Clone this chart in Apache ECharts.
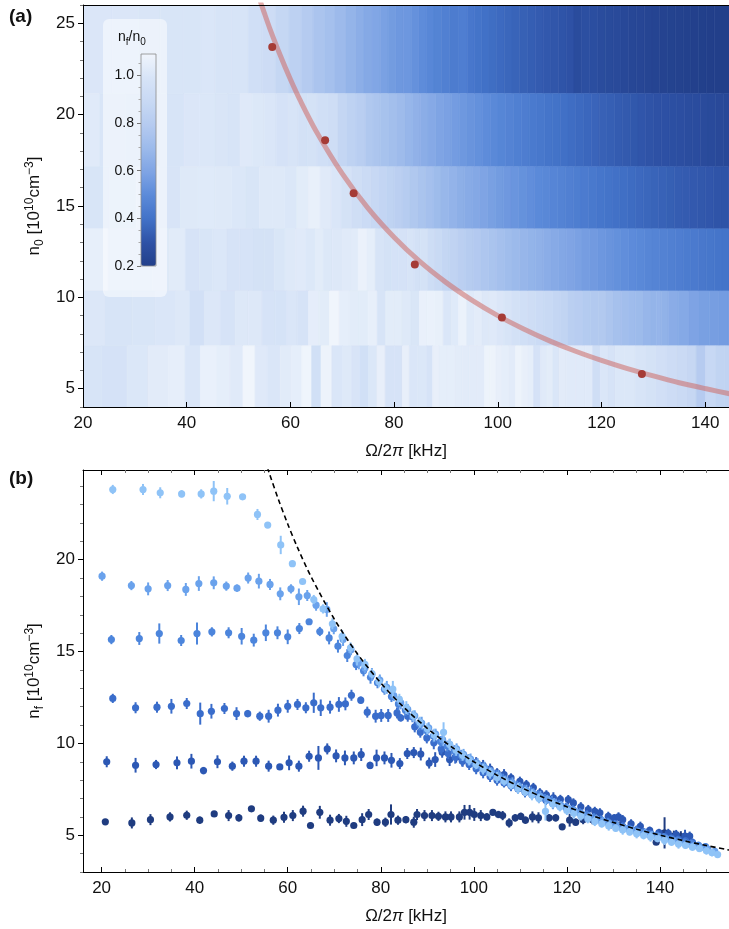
<!DOCTYPE html>
<html><head><meta charset="utf-8">
<script src="https://cdn.jsdelivr.net/npm/echarts@6/dist/echarts.min.js"></script>
<style>html,body{margin:0;padding:0;background:#fff}#c{width:729px;height:929px}</style>
</head><body><div id="c"></div>
<script>
// ---------- DATA ----------
// initial densities n0 of the six data sets (10^10 cm^-3)
const n0Values = [23.7, 18.6, 15.7, 11.8, 8.9, 5.8];
// heat-map band edges in n0 (top of band 1 ... bottom of band 6)
const bandEdges = [26, 21.15, 17.15, 13.75, 10.35, 7.35, 4];
// red dots in (a): critical frequency for each n0
const crossOmega = [56.5, 66.7, 72.2, 84.0, 100.8, 127.8];
// critical-density curve (red line in a, dashed line in b)
const curveX = [53, 54, 55, 56, 58, 60, 62, 65, 70, 75, 80, 85, 90, 95, 100, 105, 110, 115, 120, 125, 130, 135, 140, 145, 150, 155];
const curveY = [27.24, 26.37, 25.54, 24.74, 23.28, 21.94, 20.72, 19.08, 16.77, 14.87, 13.29, 11.95, 10.82, 9.85, 9.00, 8.27, 7.62, 7.05, 6.55, 6.10, 5.70, 5.33, 5.01, 4.71, 4.44, 4.19];

// measured final densities n_f: [Omega/2pi (kHz), n_f, error]
const set1 = [[22.4,23.82,0.25],[28.9,23.82,0.3],[32.6,23.64,0.3],[37.2,23.58,0.2],[41.4,23.58,0.25],[44.1,23.73,0.55],[47.0,23.45,0.45],[50.3,23.42,0.12],[53.5,22.46,0.3],[55.7,21.88,0.15],[58.5,20.8,0.5],[61.0,19.78,0.12],[63.2,18.81,0.15],[65.6,17.83,0.25],[67.6,17.32,0.25],[69.6,16.51,0.3],[71.7,15.83,0.35],[73.5,15.2,0.3],[74.9,14.6,0.35],[76.6,14.3,0.3],[78.1,13.8,0.25],[79.6,13.35,0.3],[81.0,13.0,0.3],[82.6,12.95,0.45],[84.0,12.4,0.3],[85.5,11.95,0.35],[87.0,11.5,0.3],[88.4,11.15,0.3],[90.0,10.8,0.3],[91.5,10.45,0.35],[93.5,10.6,0.55],[94.8,9.95,0.3],[96.2,9.62,0.3],[97.6,9.35,0.3],[99.0,9.1,0.3],[100.5,8.85,0.25],[102.0,8.6,0.3],[103.5,8.38,0.3],[105.0,8.15,0.3],[106.5,7.95,0.25],[108.0,7.75,0.25],[109.5,7.55,0.3],[111.0,7.38,0.25],[112.5,7.2,0.3],[114.0,7.0,0.25],[115.4,6.3,0.5],[117.0,6.7,0.25],[118.5,6.55,0.25],[120.0,6.35,0.25],[121.5,6.2,0.3],[123.0,6.05,0.25],[124.5,5.9,0.25],[126.0,5.75,0.25],[127.5,5.62,0.2],[129.0,5.5,0.25],[130.5,5.38,0.2],[132.0,5.28,0.25],[133.5,5.18,0.2],[135.0,5.08,0.25],[136.5,4.98,0.2],[138.0,4.9,0.25],[139.5,4.82,0.2],[141.0,4.72,0.25],[142.5,4.62,0.2],[144.0,4.52,0.25],[145.5,4.45,0.2],[147.0,4.35,0.2],[148.5,4.28,0.2],[150.0,4.15,0.2],[151.2,4.05,0.2],[152.4,3.95,0.15]];
const set2 = [[20.1,19.1,0.25],[26.4,18.59,0.25],[30.0,18.41,0.35],[34.2,18.59,0.3],[38.1,18.38,0.35],[40.9,18.7,0.4],[44.1,18.74,0.35],[46.8,18.56,0.25],[49.1,18.45,0.2],[51.5,19.0,0.3],[53.8,18.83,0.4],[56.2,18.65,0.3],[58.4,18.14,0.35],[60.7,18.41,0.25],[62.4,17.98,0.45],[64.2,18.05,0.3],[66.1,17.52,0.3],[68.4,17.29,0.4],[69.9,16.24,0.3],[71.9,15.65,0.35],[73.6,15.1,0.3],[75.3,14.38,0.35],[76.6,14.11,0.3],[78.1,13.75,0.35],[79.8,13.45,0.3],[81.3,13.05,0.35],[82.8,12.6,0.3],[84.3,12.2,0.35],[85.8,11.85,0.3],[87.3,11.5,0.3],[88.8,11.1,0.35],[90.3,10.85,0.3],[91.8,10.5,0.3],[93.3,10.2,0.35],[94.8,9.95,0.3],[96.3,9.7,0.3],[97.8,9.4,0.3],[99.3,9.15,0.3],[100.8,8.9,0.3],[102.3,8.7,0.3],[103.8,8.45,0.25],[105.3,8.25,0.3],[106.8,8.0,0.25],[108.3,7.85,0.3],[109.8,7.65,0.25],[111.3,7.45,0.3],[112.8,7.3,0.25],[114.3,7.12,0.3],[115.8,6.95,0.25],[117.3,6.78,0.25],[118.8,6.62,0.25],[120.3,6.45,0.25],[121.8,6.3,0.25],[123.3,6.15,0.25],[124.8,6.0,0.25],[126.3,5.88,0.2],[127.8,5.75,0.25],[129.3,5.62,0.2],[130.8,5.5,0.25],[132.3,5.4,0.2],[133.8,5.3,0.2],[135.3,5.2,0.2],[136.8,5.1,0.25],[138.3,5.02,0.2],[139.8,4.92,0.2],[141.3,4.82,0.2],[142.8,4.72,0.2],[144.3,4.62,0.2],[145.8,4.52,0.2],[147.3,4.42,0.2],[148.8,4.34,0.2],[150.3,4.25,0.2],[151.8,4.12,0.2]];
const set3 = [[22.1,15.65,0.25],[28.1,15.71,0.35],[32.4,15.98,0.55],[37.1,15.6,0.3],[40.5,15.98,0.6],[43.7,16.07,0.25],[47.3,16.02,0.3],[50.1,15.83,0.45],[52.7,15.62,0.35],[55.3,16.02,0.45],[57.8,16.02,0.35],[60.0,15.8,0.4],[62.5,16.25,0.3],[64.6,16.62,0.15],[66.9,16.09,0.25],[68.9,15.74,0.35],[70.8,15.29,0.35],[72.8,14.78,0.35],[74.7,14.29,0.3],[76.3,13.95,0.3],[77.8,13.6,0.35],[79.3,13.3,0.3],[80.8,12.95,0.3],[82.3,12.55,0.3],[83.8,12.15,0.35],[85.3,11.8,0.3],[86.8,11.45,0.3],[88.3,11.05,0.35],[89.8,10.7,0.3],[91.3,10.4,0.35],[92.8,10.1,0.3],[94.3,9.85,0.3],[95.8,9.6,0.3],[97.3,9.35,0.3],[98.8,9.1,0.3],[100.3,8.85,0.3],[101.8,8.65,0.3],[103.3,8.45,0.3],[104.8,8.25,0.3],[106.3,8.05,0.3],[107.8,7.8,0.3],[109.3,7.65,0.3],[110.8,7.5,0.25],[112.3,7.35,0.3],[113.8,7.15,0.3],[115.3,7.0,0.25],[116.8,6.85,0.3],[118.3,6.68,0.25],[119.8,6.52,0.25],[121.3,6.38,0.25],[122.8,6.22,0.25],[124.3,6.1,0.25],[125.8,5.95,0.25],[127.3,5.82,0.25],[128.8,5.7,0.25],[130.3,5.58,0.25],[131.8,5.45,0.2],[133.3,5.35,0.2],[134.8,5.25,0.25],[136.3,5.15,0.2],[137.8,5.05,0.2],[139.3,4.98,0.2],[140.8,4.9,0.2],[142.3,4.8,0.2],[143.8,4.72,0.2],[145.3,4.62,0.2],[146.8,4.55,0.2],[148.3,4.45,0.2],[149.8,4.38,0.2]];
const set4 = [[22.4,12.45,0.25],[27.3,11.94,0.3],[31.9,11.97,0.3],[35.0,12.02,0.4],[38.3,12.17,0.3],[41.2,11.62,0.6],[43.6,11.75,0.4],[46.4,11.9,0.3],[49.0,11.62,0.35],[51.4,11.62,0.2],[54.0,11.48,0.25],[55.9,11.48,0.35],[57.9,11.81,0.35],[60.0,12.02,0.35],[62.1,12.12,0.3],[63.9,11.94,0.3],[65.6,12.21,0.55],[67.1,11.94,0.45],[69.1,11.97,0.35],[71.0,12.12,0.4],[72.4,12.15,0.35],[73.7,12.62,0.3],[75.7,12.35,0.2],[77.1,11.7,0.3],[78.9,11.48,0.35],[80.1,11.52,0.35],[81.6,11.52,0.35],[83.5,11.66,0.3],[84.3,11.39,0.2],[85.8,11.48,0.3],[87.3,10.9,0.3],[88.5,10.61,0.3],[89.9,10.3,0.3],[91.4,10.03,0.35],[93.0,9.7,0.3],[94.5,9.45,0.3],[96.0,9.25,0.35],[97.5,9.05,0.3],[99.0,8.85,0.3],[100.5,8.62,0.3],[102.0,8.4,0.3],[103.5,8.2,0.3],[105.0,8.0,0.3],[106.5,7.85,0.25],[108.0,7.7,0.3],[109.5,7.52,0.25],[111.0,7.36,0.3],[112.5,7.2,0.25],[114.0,7.05,0.3],[115.5,6.9,0.25],[117.0,6.72,0.3],[118.5,6.6,0.25],[120.0,6.45,0.25],[121.5,6.3,0.25],[123.0,6.16,0.25],[124.5,6.05,0.25],[126.0,5.92,0.25],[127.5,5.8,0.25],[129.0,5.68,0.25],[130.5,5.58,0.2],[132.0,5.48,0.25],[133.5,5.38,0.2],[135.0,5.28,0.25],[136.5,5.18,0.2],[138.0,5.1,0.2],[139.5,5.0,0.25],[141.0,4.92,0.2],[142.5,4.85,0.2],[144.0,4.78,0.2],[145.5,4.7,0.2],[147.0,4.62,0.2]];
const set5 = [[21.1,9.0,0.3],[27.3,8.81,0.4],[31.7,8.85,0.25],[36.2,8.94,0.35],[39.3,9.03,0.4],[41.9,8.52,0.2],[44.9,9.0,0.35],[48.1,8.76,0.25],[50.6,9.03,0.3],[53.2,9.03,0.3],[55.9,8.76,0.3],[58.3,8.72,0.1],[60.3,8.94,0.4],[62.4,8.76,0.3],[64.6,9.3,0.3],[66.6,9.21,0.65],[68.5,9.7,0.3],[70.4,9.32,0.35],[72.3,9.21,0.4],[74.2,9.21,0.35],[75.8,9.39,0.35],[77.7,8.8,0.2],[79.1,9.21,0.45],[80.8,9.21,0.35],[82.3,9.08,0.4],[84.1,8.9,0.3],[85.7,9.45,0.3],[87.1,9.5,0.3],[88.6,9.42,0.35],[90.4,8.93,0.3],[91.7,9.12,0.4],[93.2,9.52,0.3],[94.8,9.12,0.35],[96.2,9.25,0.3],[97.6,9.03,0.3],[99.0,9.1,0.3],[100.5,8.95,0.3],[102.0,8.8,0.3],[103.5,8.6,0.3],[105.0,8.4,0.25],[106.5,8.3,0.3],[108.0,8.12,0.25],[109.9,7.94,0.25],[111.3,7.76,0.25],[112.8,7.6,0.25],[114.2,7.31,0.25],[115.6,7.2,0.25],[117.1,7.04,0.3],[118.6,6.95,0.25],[120.3,6.94,0.25],[121.4,6.76,0.25],[123.0,6.55,0.25],[124.6,6.4,0.25],[126.0,6.3,0.25],[127.1,6.22,0.25],[128.9,6.03,0.25],[130.2,5.95,0.2],[131.1,6.0,0.25],[132.0,5.85,0.25],[133.8,5.62,0.25],[135.8,5.49,0.25],[137.8,5.27,0.2],[139.8,5.15,0.2],[141.8,5.1,0.25],[143.5,5.04,0.25],[145.4,4.95,0.35],[146.4,4.95,0.25]];
const set6 = [[20.8,5.73,0.15],[26.5,5.67,0.3],[30.5,5.85,0.3],[34.7,6.0,0.25],[38.3,6.09,0.25],[41.1,5.82,0.2],[44.2,6.16,0.15],[47.3,6.07,0.3],[49.5,5.95,0.2],[52.2,6.44,0.15],[54.2,5.93,0.2],[56.9,5.82,0.25],[59.2,5.98,0.3],[61.1,6.07,0.3],[63.3,6.31,0.3],[64.9,5.53,0.15],[66.9,6.25,0.35],[69.1,5.82,0.3],[71.0,5.91,0.25],[72.6,5.76,0.3],[74.2,5.53,0.15],[76.0,5.85,0.35],[77.4,6.13,0.3],[79.2,5.71,0.2],[81.0,5.71,0.25],[82.2,6.13,0.55],[83.7,5.82,0.25],[85.4,5.85,0.2],[87.1,5.71,0.3],[87.8,6.13,0.3],[89.4,6.07,0.3],[91.0,6.07,0.3],[92.4,6.03,0.25],[93.9,6.0,0.3],[95.1,6.0,0.3],[96.9,6.0,0.3],[98.0,6.25,0.4],[99.1,6.25,0.4],[100.1,6.13,0.35],[101.5,6.07,0.3],[102.8,6.0,0.2],[104.1,6.25,0.15],[105.3,6.13,0.2],[106.2,6.07,0.25],[107.6,5.67,0.25],[108.9,5.95,0.2],[110.1,6.03,0.2],[111.1,5.82,0.2],[112.6,6.0,0.3],[113.9,5.95,0.3],[116.2,5.95,0.2],[117.6,5.95,0.2],[119.0,5.46,0.15],[120.6,5.82,0.35],[121.9,5.71,0.2],[123.5,5.85,0.25],[125.5,5.85,0.25],[127.5,5.75,0.25],[129.5,5.62,0.25],[131.5,5.5,0.25],[133.5,5.35,0.25],[135.5,5.25,0.25],[137.4,5.1,0.25],[139.2,4.62,0.15],[141.0,5.13,0.85],[143.0,4.95,0.3],[144.5,4.92,0.3]];

// tick values
const aXTicks = [20, 40, 60, 80, 100, 120, 140];
const aYTicks = [5, 10, 15, 20, 25];
const aYMinor = [4, 6, 7, 8, 9, 11, 12, 13, 14, 16, 17, 18, 19, 21, 22, 23, 24, 26];
const bXTicks = [20, 40, 60, 80, 100, 120, 140];
const bXMinor = [25, 30, 35, 45, 50, 55, 65, 70, 75, 85, 90, 95, 105, 110, 115, 125, 130, 135, 145, 150];
const bYTicks = [5, 10, 15, 20];
const bYMinor = [3, 4, 6, 7, 8, 9, 11, 12, 13, 14, 16, 17, 18, 19, 21, 22, 23, 24];
const cbTicks = [0.2, 0.4, 0.6, 0.8, 1.0];
const cbMinor = [0.25, 0.3, 0.35, 0.45, 0.5, 0.55, 0.65, 0.7, 0.75, 0.85, 0.9, 0.95, 1.05];

// ---------- STYLE / LAYOUT ----------
const FONT = '"Liberation Sans", Arial, Helvetica, sans-serif';
const A_XMIN = 20, A_XMAX = 144.6, A_YMIN = 4, A_YMAX = 26;
const B_XMIN = 16, B_XMAX = 154.85, B_YMIN = 3, B_YMAX = 24.88;
const CB_MIN = 0.2, CB_MAX = 1.09;
const setColors = ['#8fc3f7', '#6aa2ec', '#4c85dc', '#3a6dcb', '#2c58b4', '#1f3c80'];
const sets = [set1, set2, set3, set4, set5, set6];

// heat map cells (a): ratio n_f/n_0, columns centred on the measured frequencies
const heatCells = [];
sets.forEach((pts, i) => {
  const n0 = n0Values[i], yTop = bandEdges[i], yBot = bandEdges[i + 1];
  for (let k = 0; k < pts.length; k++) {
    const x = pts[k][0];
    let xl = k === 0 ? A_XMIN : (pts[k - 1][0] + x) / 2;
    let xr = k === pts.length - 1 ? A_XMAX : (x + pts[k + 1][0]) / 2;
    xl = Math.max(xl, A_XMIN); xr = Math.min(xr, A_XMAX);
    if (xr <= xl) continue;
    heatCells.push([xl, xr, yBot, yTop, pts[k][1] / n0]);
  }
});

const richTxt = (size) => ({
  t: {fontSize: size, fontFamily: FONT, color: '#111', fontWeight: 'normal', lineHeight: size + 5},
  i: {fontSize: size, fontFamily: FONT, color: '#111', fontWeight: 'normal', fontStyle: 'italic', lineHeight: size + 5},
  sb: {fontSize: Math.round(size * 0.7), fontFamily: FONT, color: '#111', fontWeight: 'normal', verticalAlign: 'bottom', lineHeight: size + 5},
  sp: {fontSize: Math.round(size * 0.7), fontFamily: FONT, color: '#111', fontWeight: 'normal', verticalAlign: 'top', lineHeight: Math.round(size * 0.7)}
});

function ax(extra) {
  return Object.assign({
    type: 'value', z: 10, splitLine: {show: false},
    axisLine: {show: false, onZero: false},
    axisTick: {show: false}, axisLabel: {show: false}
  }, extra);
}
const majorLine = {show: true, onZero: false, lineStyle: {color: '#000', width: 1}};
const lab = (vals, size) => ({show: true, customValues: vals, fontSize: size, color: '#111', fontFamily: FONT, margin: 8});

function errSeries(pts, color) {
  return {
    type: 'custom', xAxisIndex: 2, yAxisIndex: 2, data: pts, encode: {x: 0, y: 1}, z: 3, clip: true,
    renderItem(params, api) {
      const x = api.value(0), y = api.value(1), e = api.value(2);
      const p = api.coord([x, y]), t = api.coord([x, y + e]), b = api.coord([x, y - e]);
      return {type: 'group', children: [
        {type: 'line', shape: {x1: p[0], y1: t[1], x2: p[0], y2: b[1]}, style: {stroke: color, lineWidth: 2}},
        {type: 'circle', shape: {cx: p[0], cy: p[1], r: 3.6}, style: {fill: color}}
      ]};
    }
  };
}

const option = {
  animation: false,
  backgroundColor: '#fff',
  textStyle: {fontFamily: FONT},
  title: [
    {text: '(a)', left: 9, top: 7, padding: 0, textStyle: {fontSize: 19, fontWeight: 'bold', color: '#111', fontFamily: FONT}},
    {text: '(b)', left: 9, top: 469, padding: 0, textStyle: {fontSize: 19, fontWeight: 'bold', color: '#111', fontFamily: FONT}},
    {text: '{t|n}{sb|f}{t|/n}{sb|0}', left: 118, top: 28, padding: 0, textStyle: {fontWeight: 'normal', rich: richTxt(14)}}
  ],
  graphic: [
    {type: 'rect', shape: {x: 103, y: 19, width: 64, height: 278, r: 6}, style: {fill: 'rgba(255,255,255,0.5)'}, z: 3}
  ],
  grid: [
    {left: 83, top: 5, width: 648, height: 402, show: false},
    {left: 83, top: 470, width: 648, height: 402, show: false},
    {left: 141, top: 54, width: 15, height: 212, show: true, borderColor: '#8a8a8a', borderWidth: 0.8, backgroundColor: 'transparent', z: 10}
  ],
  visualMap: {
    type: 'continuous', min: CB_MIN, max: CB_MAX, dimension: 4, seriesIndex: 0,
    left: 141, top: 54, itemWidth: 15, itemHeight: 212, padding: 0, calculable: false, z: 6,
    inRange: {color: ['#223f8a', '#2e52a6', '#4272c8', '#5b8ad9', '#7fa4e4', '#9cbaeb', '#b5cbf0', '#c8d9f4', '#d7e4f7', '#f0f5fc']}
  },
  xAxis: [
    ax({gridIndex: 0, position: 'bottom', min: A_XMIN, max: A_XMAX, axisLine: majorLine,
        axisTick: {show: true, inside: true, length: 5, customValues: aXTicks, lineStyle: {color: '#000'}},
        axisLabel: lab(aXTicks, 17),
        name: '{t|Ω/2}{i|π}{t| [kHz]}', nameLocation: 'middle', nameGap: 33, nameTextStyle: {rich: richTxt(17)}}),
    ax({gridIndex: 0, position: 'top', min: A_XMIN, max: A_XMAX, axisLine: majorLine}),
    ax({gridIndex: 1, position: 'bottom', min: B_XMIN, max: B_XMAX, axisLine: majorLine,
        axisTick: {show: true, inside: true, length: 5, customValues: bXTicks, lineStyle: {color: '#000'}},
        axisLabel: lab(bXTicks, 17),
        name: '{t|Ω/2}{i|π}{t| [kHz]}', nameLocation: 'middle', nameGap: 33, nameTextStyle: {rich: richTxt(17)}}),
    ax({gridIndex: 1, position: 'bottom', min: B_XMIN, max: B_XMAX,
        axisTick: {show: true, inside: true, length: 3, customValues: bXMinor, lineStyle: {color: '#777'}}}),
    ax({gridIndex: 1, position: 'top', min: B_XMIN, max: B_XMAX, axisLine: majorLine,
        axisTick: {show: true, inside: true, length: 5, customValues: bXTicks, lineStyle: {color: '#000'}}}),
    ax({gridIndex: 1, position: 'top', min: B_XMIN, max: B_XMAX,
        axisTick: {show: true, inside: true, length: 3, customValues: bXMinor, lineStyle: {color: '#777'}}}),
    ax({gridIndex: 2, min: 0, max: 1, show: false})
  ],
  yAxis: [
    ax({gridIndex: 0, position: 'left', min: A_YMIN, max: A_YMAX, axisLine: majorLine,
        axisTick: {show: true, inside: false, length: 5, customValues: aYTicks, lineStyle: {color: '#000'}},
        axisLabel: lab(aYTicks, 17),
        name: '{t|n}{sb|0}{t| [10}{sp|10}{t|cm}{sp|−3}{t|]}', nameLocation: 'middle', nameRotate: 90, nameGap: 30, nameTextStyle: {rich: richTxt(17)}}),
    ax({gridIndex: 0, position: 'left', min: A_YMIN, max: A_YMAX,
        axisTick: {show: true, inside: false, length: 3, customValues: aYMinor, lineStyle: {color: '#777'}}}),
    ax({gridIndex: 1, position: 'left', min: B_YMIN, max: B_YMAX, axisLine: majorLine,
        axisTick: {show: true, inside: false, length: 5, customValues: bYTicks, lineStyle: {color: '#000'}},
        axisLabel: lab(bYTicks, 17),
        name: '{t|n}{sb|f}{t| [10}{sp|10}{t|cm}{sp|−3}{t|]}', nameLocation: 'middle', nameRotate: 90, nameGap: 30, nameTextStyle: {rich: richTxt(17)}}),
    ax({gridIndex: 1, position: 'left', min: B_YMIN, max: B_YMAX,
        axisTick: {show: true, inside: false, length: 3, customValues: bYMinor, lineStyle: {color: '#777'}}}),
    ax({gridIndex: 2, position: 'left', min: CB_MIN, max: CB_MAX,
        axisTick: {show: true, inside: false, length: 4, customValues: cbTicks, lineStyle: {color: '#777'}},
        axisLabel: Object.assign(lab(cbTicks, 14), {margin: 7, formatter: v => v.toFixed(1)})}),
    ax({gridIndex: 2, position: 'left', min: CB_MIN, max: CB_MAX,
        axisTick: {show: true, inside: false, length: 2.5, customValues: cbMinor, lineStyle: {color: '#aaa'}}})
  ],
  series: [
    {
      type: 'custom', name: 'nf/n0', xAxisIndex: 0, yAxisIndex: 0, data: heatCells, encode: {x: [0, 1], y: [2, 3]}, z: 1, clip: true,
      renderItem(params, api) {
        const a = api.coord([api.value(0), api.value(3)]), b = api.coord([api.value(1), api.value(2)]);
        const c = api.visual('color');
        return {type: 'rect', shape: {x: a[0], y: a[1], width: b[0] - a[0], height: b[1] - a[1]}, style: {fill: c, stroke: c, lineWidth: 0.6}};
      }
    },
    {
      type: 'line', name: 'critical', xAxisIndex: 0, yAxisIndex: 0, data: curveX.map((x, i) => [x, curveY[i]]),
      smooth: 0.3, showSymbol: false, clip: true, z: 3,
      lineStyle: {color: 'rgba(205,105,100,0.55)', width: 5}
    },
    {
      type: 'scatter', name: 'crossing', xAxisIndex: 0, yAxisIndex: 0, data: crossOmega.map((x, i) => [x, n0Values[i]]),
      symbolSize: 8, z: 4, itemStyle: {color: '#a53b36', opacity: 1}
    },
    errSeries(set6, setColors[5]),
    errSeries(set5, setColors[4]),
    errSeries(set4, setColors[3]),
    errSeries(set3, setColors[2]),
    errSeries(set2, setColors[1]),
    errSeries(set1, setColors[0]),
    {
      type: 'line', name: 'critical-b', xAxisIndex: 2, yAxisIndex: 2, data: curveX.map((x, i) => [x, curveY[i]]),
      smooth: 0.3, showSymbol: false, clip: true, z: 5,
      lineStyle: {color: '#000', width: 1.6, type: [5, 3.5]}
    }
  ]
};
const chart = echarts.init(document.getElementById('c'), null, {renderer: 'canvas'});
chart.setOption(option);
</script></body></html>
